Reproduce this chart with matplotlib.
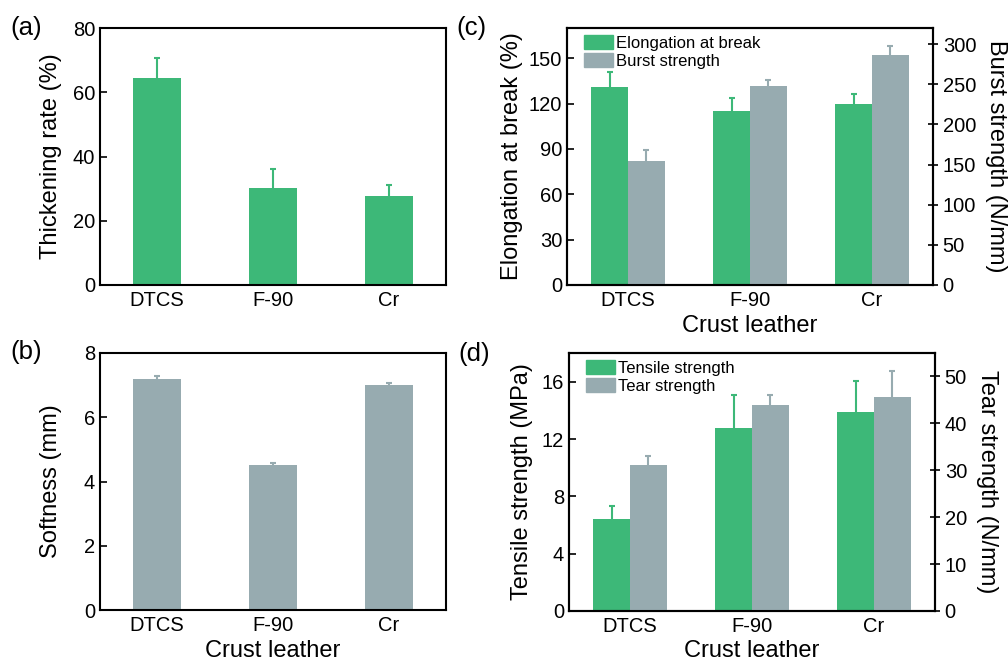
import matplotlib
matplotlib.use("Agg")
import matplotlib.pyplot as plt
from matplotlib.patches import Patch
import numpy as np

plt.rcParams['font.family'] = ['Liberation Sans', 'DejaVu Sans']

categories = ["DTCS", "F-90", "Cr"]

thick_vals = [64.5, 30.3, 27.8]
thick_err = [6.3, 5.7, 3.2]

soft_vals = [7.2, 4.5, 7.0]
soft_err = [0.08, 0.08, 0.08]

elong_vals = [131, 115, 120]
elong_err = [9.7, 8.5, 6.6]
burst_vals = [155, 248, 287]
burst_err = [13, 7, 10]

tensile_vals = [6.45, 12.75, 13.85]
tensile_err = [0.85, 2.35, 2.17]
tear_vals = [31.2, 43.9, 45.7]
tear_err = [1.9, 2.2, 5.5]

GREEN = "#3DB878"
GRAY = "#97ABB0"

fig = plt.figure(figsize=(10.08, 6.62), dpi=100)
W, H = 1008, 662

def add_ax(l, t, r, b):
    return fig.add_axes([l / W, 1 - b / H, (r - l) / W, (b - t) / H])

TICK_FS = 14.5
LAB_FS = 17
LEG_FS = 12

def style(ax):
    for s in ax.spines.values():
        s.set_linewidth(1.5)
    ax.tick_params(axis='y', direction='in', length=5, width=1.2, labelsize=TICK_FS)
    ax.tick_params(axis='x', direction='in', length=4, width=1.2, labelsize=TICK_FS, pad=4)

def bars(ax, x, vals, err, color, width):
    ax.errorbar(x, vals, yerr=err, fmt='none', ecolor=color,
                elinewidth=1.5, capsize=2.5, capthick=1.5, zorder=1)
    ax.bar(x, vals, width=width, color=color, zorder=2)

x = np.arange(len(categories))

# (a)
ax_a = add_ax(100, 28, 446, 285)
bars(ax_a, x, thick_vals, thick_err, GREEN, 0.41)
ax_a.set_xlim(-0.49, 2.49)
ax_a.set_ylim(0, 80)
ax_a.set_yticks([0, 20, 40, 60, 80])
ax_a.set_xticks(x)
ax_a.set_xticklabels(categories)
ax_a.set_ylabel("Thickening rate (%)", fontsize=LAB_FS, labelpad=8)
style(ax_a)
ax_a.tick_params(axis='x', length=0)

# (b)
ax_b = add_ax(100, 353, 446, 610)
bars(ax_b, x, soft_vals, soft_err, GRAY, 0.41)
ax_b.set_xlim(-0.49, 2.49)
ax_b.set_ylim(0, 8)
ax_b.set_yticks([0, 2, 4, 6, 8])
ax_b.set_xticks(x)
ax_b.set_xticklabels(categories)
ax_b.set_ylabel("Softness (mm)", fontsize=LAB_FS, labelpad=16)
ax_b.set_xlabel("Crust leather", fontsize=LAB_FS, labelpad=4)
style(ax_b)
ax_b.tick_params(axis='x', length=0)

bw = 0.3

def legend(ax, labels):
    ax.legend(handles=[Patch(color=GREEN, label=labels[0]),
                       Patch(color=GRAY, label=labels[1])],
              loc='upper left', bbox_to_anchor=(0.02, 1.01), frameon=False, fontsize=LEG_FS,
              handlelength=1.7, handleheight=0.85, handletextpad=0.2, labelspacing=0.15,
              borderaxespad=0.2)

# (c)
ax_c = add_ax(567, 28, 933, 285)
ax_c2 = ax_c.twinx()
bars(ax_c, x - bw / 2, elong_vals, elong_err, GREEN, bw)
bars(ax_c2, x + bw / 2, burst_vals, burst_err, GRAY, bw)
ax_c.set_xlim(-0.5, 2.5)
ax_c.set_ylim(0, 170)
ax_c.set_yticks([0, 30, 60, 90, 120, 150])
ax_c2.set_ylim(0, 320)
ax_c2.set_yticks([0, 50, 100, 150, 200, 250, 300])
ax_c.set_xticks(x)
ax_c.set_xticklabels(categories)
ax_c.set_ylabel("Elongation at break (%)", fontsize=LAB_FS, labelpad=4)
ax_c2.set_ylabel("Burst strength (N/mm)", fontsize=LAB_FS, rotation=270, labelpad=22)
ax_c.set_xlabel("Crust leather", fontsize=LAB_FS, labelpad=4)
style(ax_c)
style(ax_c2)
ax_c2.tick_params(axis='y', direction='inout', length=7)
legend(ax_c2, ["Elongation at break", "Burst strength"])

# (d)
ax_d = add_ax(569, 353, 935, 611)
ax_d2 = ax_d.twinx()
bars(ax_d, x - bw / 2, tensile_vals, tensile_err, GREEN, bw)
bars(ax_d2, x + bw / 2, tear_vals, tear_err, GRAY, bw)
ax_d.set_xlim(-0.5, 2.5)
ax_d.set_ylim(0, 18)
ax_d.set_yticks([0, 4, 8, 12, 16])
ax_d2.set_ylim(0, 55)
ax_d2.set_yticks([0, 10, 20, 30, 40, 50])
ax_d.set_xticks(x)
ax_d.set_xticklabels(categories)
ax_d.set_ylabel("Tensile strength (MPa)", fontsize=LAB_FS, labelpad=6)
ax_d2.set_ylabel("Tear strength (N/mm)", fontsize=LAB_FS, rotation=270, labelpad=22)
ax_d.set_xlabel("Crust leather", fontsize=LAB_FS, labelpad=3)
style(ax_d)
style(ax_d2)
ax_d2.tick_params(axis='y', direction='inout', length=7)
legend(ax_d2, ["Tensile strength", "Tear strength"])

# panel labels
for lbl, px, py in [("(a)", 10, 28), ("(b)", 10, 352), ("(c)", 456, 28), ("(d)", 458, 354)]:
    fig.text(px / W, 1 - py / H, lbl, fontsize=18.5, va='center', ha='left')

fig.savefig("out.png", dpi=100)
